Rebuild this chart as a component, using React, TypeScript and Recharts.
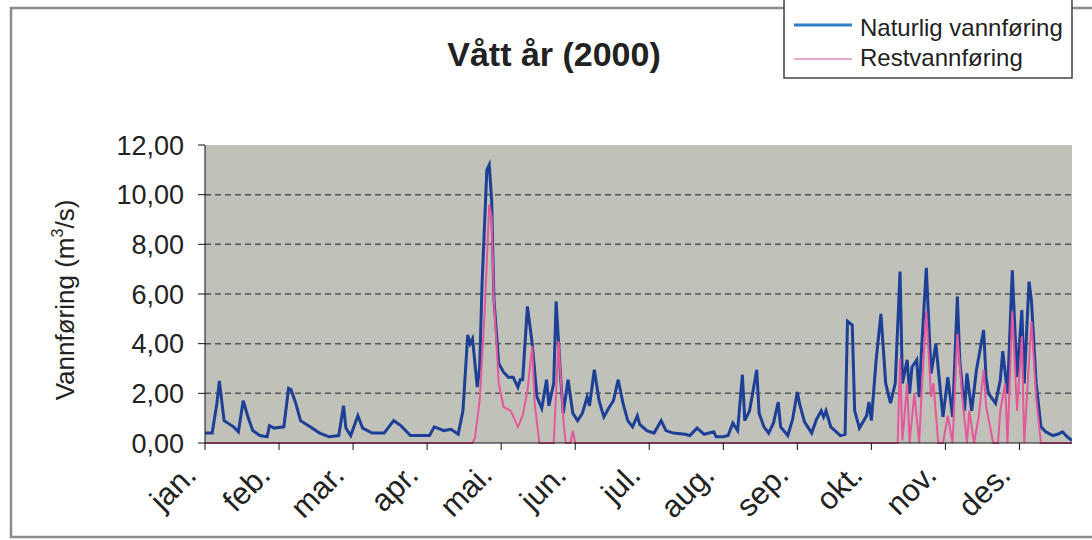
import React from "react";
import { CartesianGrid, Line, LineChart, XAxis, YAxis } from "recharts";

// dagnummer i året (0 = 1. jan) og vannføring i m3/s, lest av figuren
const naturlig: [number, number][] = [
  [0, 0.4], [3, 0.4], [5, 1.6], [6, 2.5], [7, 1.7], [8, 0.9], [12, 0.65], [14, 0.45],
  [16, 1.7], [18, 1.05], [20, 0.5], [23, 0.3], [26, 0.25], [27, 0.7], [29, 0.6], [33, 0.65],
  [35, 2.2], [36, 2.15], [38, 1.6], [40, 0.9], [44, 0.65], [48, 0.4], [52, 0.25], [56, 0.3],
  [58, 1.5], [59, 0.6], [61, 0.3], [64, 1.1], [66, 0.6], [70, 0.4], [75, 0.4], [79, 0.9],
  [82, 0.7], [86, 0.3], [90, 0.3], [94, 0.3], [96, 0.65], [100, 0.5], [103, 0.55], [106, 0.35],
  [108, 1.3], [110, 4.35], [111, 4.0], [112, 4.2], [114, 2.25], [115, 3.05], [116, 6.4], [118, 11.0],
  [119, 11.2], [120, 9.8], [121, 5.75], [123, 3.2], [125, 2.85], [127, 2.65], [129, 2.65], [131, 2.25],
  [132, 2.55], [133, 2.55], [135, 5.5], [137, 4.0], [139, 1.85], [141, 1.4], [143, 2.55], [144, 1.5],
  [146, 2.4], [147, 5.7], [149, 2.5], [150, 1.2], [152, 2.55], [154, 1.2], [156, 0.9], [158, 1.2],
  [160, 1.85], [161, 1.5], [163, 2.95], [165, 1.7], [167, 1.05], [169, 1.4], [171, 1.7], [173, 2.55],
  [175, 1.6], [177, 0.9], [179, 0.65], [181, 1.1], [182, 0.75], [185, 0.5], [188, 0.4], [191, 0.9],
  [193, 0.5], [196, 0.4], [201, 0.35], [203, 0.3], [206, 0.6], [209, 0.35], [213, 0.45], [214, 0.25],
  [217, 0.25], [219, 0.3], [221, 0.8], [223, 0.5], [225, 2.75], [226, 0.9], [228, 1.3], [231, 2.95],
  [232, 1.2], [234, 0.65], [236, 0.4], [238, 0.8], [240, 1.65], [241, 0.65], [244, 0.3], [246, 0.95],
  [248, 2.05], [249, 1.55], [251, 0.85], [254, 0.4], [256, 0.95], [258, 1.3], [259, 1.05], [260, 1.3],
  [262, 0.65], [266, 0.3], [268, 0.35], [269, 4.9], [271, 4.75], [272, 1.3], [274, 0.6], [277, 1.1],
  [278, 1.65], [279, 0.9], [281, 3.35], [283, 5.2], [285, 2.4], [287, 1.6], [289, 2.4], [291, 6.9],
  [292, 2.4], [294, 3.35], [295, 2.0], [296, 3.05], [298, 3.35], [299, 1.85], [300, 3.75], [302, 7.05],
  [304, 2.8], [306, 4.0], [308, 2.0], [309, 1.05], [311, 2.65], [313, 1.05], [315, 5.9], [316, 3.35],
  [318, 1.3], [319, 2.8], [321, 1.3], [323, 2.95], [326, 4.55], [327, 2.65], [328, 2.0], [331, 1.6],
  [333, 2.55], [334, 3.7], [336, 2.0], [338, 6.95], [340, 2.65], [342, 5.35], [343, 2.4], [345, 6.5],
  [346, 5.75], [348, 2.4], [350, 0.65], [352, 0.45], [355, 0.3], [357, 0.35], [359, 0.45], [361, 0.25],
  [363, 0.1],
];

const rest: [number, number][] = [
  [0, 0], [112, 0], [113, 0.2], [115, 1.7], [117, 5.1], [119, 9.6], [120, 9.1], [121, 5.7],
  [123, 2.4], [125, 1.45], [128, 1.3], [131, 0.65], [133, 1.1], [135, 2.1], [137, 3.9], [138, 1.6],
  [140, 0], [146, 0], [148, 4.1], [150, 1.0], [151, 0], [153, 0], [154, 0.5], [155, 0],
  [290, 0], [291, 3.4], [292, 0.1], [294, 2.4], [295, 0], [297, 2.0], [299, 0], [300, 2.0],
  [302, 5.3], [304, 1.85], [305, 2.4], [307, 0], [309, 0], [311, 1.1], [313, 0], [315, 4.4],
  [317, 1.9], [319, 0], [320, 1.3], [322, 0], [324, 1.1], [326, 2.95], [327, 1.5], [330, 0],
  [332, 0], [333, 1.3], [335, 2.4], [336, 0], [338, 5.3], [340, 1.3], [342, 4.3], [343, 0],
  [346, 4.9], [348, 1.8], [350, 0], [363, 0],
];

const maanedStart = [0, 31, 62, 93, 124, 155, 186, 217, 248, 279, 310, 341];
const maaneder = ["jan.", "feb.", "mar.", "apr.", "mai.", "jun.", "jul.", "aug.", "sep.", "okt.", "nov.", "des."];
const yTicks = [0, 2, 4, 6, 8, 10, 12];

const font = "'Liberation Sans', Arial, sans-serif";

const naturligData = naturlig.map(([dag, v]) => ({ dag, v }));
const restData = rest.map(([dag, v]) => ({ dag, v }));

function MonthTick(props: any) {
  const { x, y, payload } = props;
  const i = maanedStart.indexOf(payload.value);
  const ax = x - 7;
  const ay = y + 25;
  return (
    <text
      x={ax}
      y={ay}
      transform={`rotate(-45 ${ax} ${ay})`}
      textAnchor="end"
      fontSize={31}
      fontFamily={font}
      fill="#222"
    >
      {maaneder[i]}
    </text>
  );
}

export default function App() {
  return (
    <div style={{ position: "absolute", left: 0, top: 0, width: 1092, height: 540, background: "#fff" }}>
      <LineChart width={1092} height={540} margin={{ top: 145, right: 20, bottom: 0, left: 0 }}>
        <CartesianGrid
          vertical={false}
          horizontalValues={[2, 4, 6, 8, 10]}
          stroke="#555"
          strokeWidth={1.5}
          strokeDasharray="6 4"
          fill="#c0c2ba"
        />
        <XAxis
          dataKey="dag"
          type="number"
          domain={[0, 363]}
          ticks={maanedStart}
          interval={0}
          height={97}
          tickSize={7}
          stroke="#111"
          tick={<MonthTick />}
          allowDataOverflow
        />
        <YAxis
          type="number"
          domain={[0, 12]}
          ticks={yTicks}
          width={205}
          tickSize={7}
          tickMargin={14}
          stroke="#111"
          tickFormatter={(v: number) => v.toFixed(2).replace(".", ",")}
          tick={{ fontSize: 27, fontFamily: font, fill: "#222" }}
        />
        <Line
          data={naturligData}
          dataKey="v"
          type="linear"
          stroke="#1d3f95"
          strokeWidth={3}
          dot={false}
          isAnimationActive={false}
        />
        <Line
          data={restData}
          dataKey="v"
          type="linear"
          stroke="#e4589b"
          strokeWidth={2}
          dot={false}
          isAnimationActive={false}
        />
      </LineChart>
      <svg
        width={1092}
        height={540}
        style={{ position: "absolute", left: 0, top: 0, pointerEvents: "none" }}
      >
        <rect x={11} y={8} width={1100} height={529} fill="none" stroke="#8c8c8c" strokeWidth={2.5} />
        <text x={554} y={66} textAnchor="middle" fontSize={34} fontWeight="bold" fontFamily={font} fill="#222">
          Vått år (2000)
        </text>
        <text
          x={74}
          y={300}
          textAnchor="middle"
          transform="rotate(-90 74 300)"
          fontSize={26}
          fontFamily={font}
          fill="#222"
        >
          Vannføring (m<tspan fontSize={16} dy={-11}>3</tspan>
          <tspan dy={11}>/s)</tspan>
        </text>
        <rect x={784} y={-2} width={288} height={80} fill="#fff" stroke="#444" strokeWidth={1.5} />
        <line x1={794} y1={25} x2={852} y2={25} stroke="#2f7cc9" strokeWidth={3} />
        <text x={860} y={36} fontSize={24} fontFamily={font} fill="#222">
          Naturlig vannføring
        </text>
        <line x1={794} y1={59} x2={852} y2={59} stroke="#eaa6d4" strokeWidth={2} />
        <text x={860} y={66} fontSize={24} fontFamily={font} fill="#222">
          Restvannføring
        </text>
      </svg>
    </div>
  );
}
